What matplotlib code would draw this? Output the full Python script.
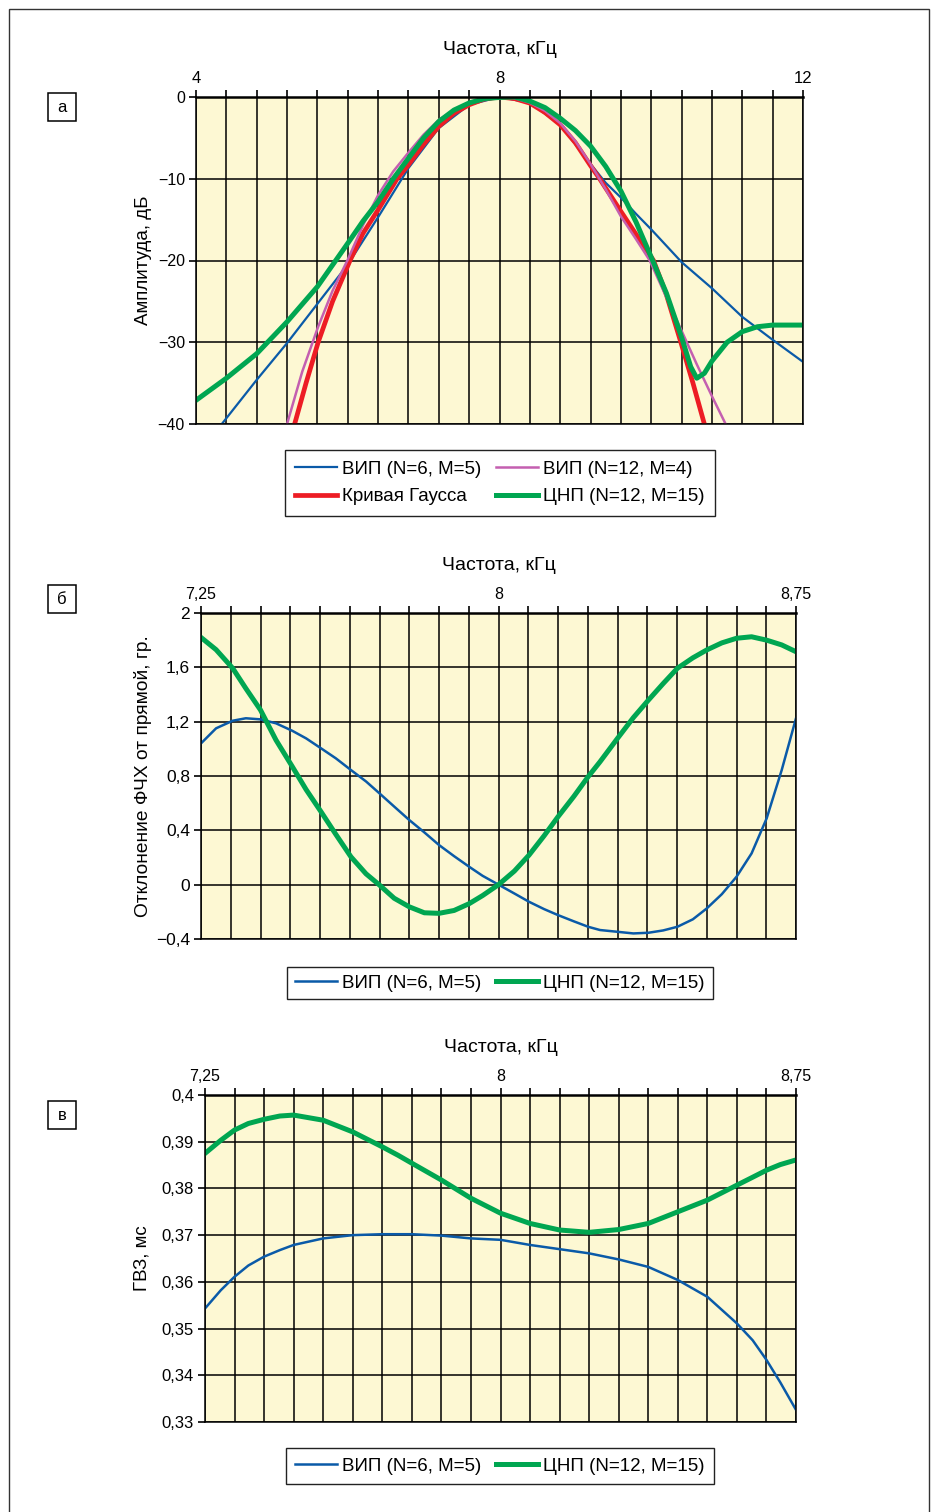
import matplotlib
matplotlib.use("Agg")
import matplotlib.pyplot as plt
import numpy as np
from matplotlib.patches import Rectangle

plt.rcParams['font.family'] = ['Liberation Sans', 'DejaVu Sans']

BLUE = '#0a5aa8'
RED = '#ed1c24'
PINK = '#c45fb0'
GREEN = '#00a651'
BG = '#fdf8d3'

# ---- panel a: amplitude, dB vs frequency, kHz
a_blue_f = [4.34, 4.8, 5.2, 5.6, 6.0, 6.4, 6.8, 7.2, 7.6, 8.0, 8.4, 8.8, 9.2, 9.4, 9.6, 9.8, 10.0, 10.4, 10.8, 11.2, 11.6, 12.0]
a_blue_db = [-40, -34.6, -30.1, -25.3, -20.5, -14.7, -8.7, -3.8, -0.95, 0, -0.7, -3.4, -8.2, -10.5, -12.3, -14.3, -16.2, -20.2, -23.4, -26.9, -29.7, -32.4]

a_red_f = [5.30, 5.45, 5.61, 5.8, 6.03, 6.2, 6.4, 6.65, 6.8, 7.0, 7.2, 7.4, 7.6, 7.8, 8.0, 8.2, 8.4, 8.6, 8.8, 9.0, 9.2, 9.32, 9.6, 9.8, 10.03, 10.2, 10.39, 10.55, 10.70]
a_red_db = [-40, -35.0, -30, -25.0, -20, -16.7, -13.8, -10, -8.3, -5.8, -3.6, -2.0, -0.95, -0.25, 0, -0.2, -0.75, -1.9, -3.4, -5.6, -8.4, -10, -14.0, -16.8, -20, -24.2, -30, -35.0, -40]

a_pink_f = [5.2, 5.4, 5.61, 5.8, 6.0, 6.2, 6.4, 6.6, 6.8, 7.0, 7.2, 7.4, 7.6, 7.8, 8.0, 8.2, 8.4, 8.6, 8.8, 9.0, 9.2, 9.4, 9.6, 9.8, 9.98, 10.2, 10.4, 10.6, 10.8, 10.98]
a_pink_db = [-40, -33.6, -28.1, -23.7, -19.9, -15.7, -12.0, -9.1, -6.8, -4.6, -2.8, -1.6, -0.7, -0.15, 0, -0.15, -0.7, -1.7, -3.2, -5.4, -8.2, -11.3, -14.6, -17.4, -20.0, -24.5, -28.6, -32.7, -36.6, -40]

a_green_f = [4.0, 4.4, 4.8, 5.2, 5.6, 6.0, 6.2, 6.4, 6.6, 6.8, 7.0, 7.2, 7.4, 7.6, 7.8, 8.0, 8.2, 8.4, 8.6, 8.8, 9.0, 9.2, 9.4, 9.6, 9.8, 10.0, 10.2, 10.4, 10.52, 10.6, 10.7, 10.8, 11.0, 11.2, 11.4, 11.6, 12.0]
a_green_db = [-37.1, -34.4, -31.4, -27.5, -23.2, -17.9, -15.2, -12.8, -10.0, -7.5, -5.0, -3.0, -1.6, -0.73, -0.2, -0.05, 0, -0.5, -1.3, -2.6, -4.1, -6.0, -8.5, -11.5, -15.3, -19.6, -24.0, -29.4, -33.0, -34.4, -33.8, -32.3, -30.0, -28.7, -28.1, -27.9, -27.9]

a_xticks = [4, 8, 12]
a_xlabels = ['4', '8', '12']
a_yticks = [0, -10, -20, -30, -40]
a_ylabels = ['0', '\u221210', '\u221220', '\u221230', '\u221240']

# ---- panel б: phase deviation, degrees
b_f = [7.25, 7.288, 7.33, 7.363, 7.40, 7.439, 7.48, 7.515, 7.553, 7.59, 7.628, 7.666, 7.70, 7.737,
       7.775, 7.813, 7.85, 7.888, 7.926, 7.96, 8.0, 8.04, 8.077, 8.115, 8.15, 8.19, 8.226, 8.256,
       8.30, 8.34, 8.378, 8.415, 8.451, 8.49, 8.525, 8.563, 8.60, 8.638, 8.676, 8.714, 8.75]
b_blue = [1.04, 1.151, 1.207, 1.225, 1.217, 1.188, 1.133, 1.077, 1.003, 0.93, 0.844, 0.76, 0.672, 0.575,
          0.476, 0.385, 0.292, 0.21, 0.132, 0.065, 0.0, -0.065, -0.126, -0.18, -0.224, -0.27, -0.31, -0.334,
          -0.347, -0.359, -0.354, -0.337, -0.31, -0.255, -0.175, -0.07, 0.058, 0.23, 0.488, 0.844, 1.225]
b_green = [1.82, 1.73, 1.593, 1.445, 1.286, 1.065, 0.87, 0.70, 0.535, 0.37, 0.205, 0.08, -0.003, -0.1,
           -0.163, -0.207, -0.211, -0.19, -0.14, -0.08, 0.0, 0.10, 0.218, 0.36, 0.50, 0.65, 0.795, 0.905,
           1.077, 1.23, 1.359, 1.48, 1.593, 1.67, 1.728, 1.78, 1.814, 1.825, 1.80, 1.765, 1.715]
b_yticks = [2, 1.6, 1.2, 0.8, 0.4, 0, -0.4]
b_ylabels = ['2', '1,6', '1,2', '0,8', '0,4', '0', '\u22120,4']

# ---- panel в: group delay, ms
c_f = [7.25, 7.29, 7.325, 7.36, 7.4, 7.44, 7.475, 7.55, 7.625, 7.7, 7.74, 7.775, 7.85, 7.925, 8.0,
       8.075, 8.15, 8.225, 8.3, 8.375, 8.45, 8.525, 8.6, 8.64, 8.675, 8.71, 8.75]
c_blue = [0.3543, 0.3582, 0.3611, 0.3635, 0.3654, 0.3668, 0.3679, 0.3693, 0.3700, 0.3702, 0.3702, 0.3702, 0.3699, 0.3693, 0.3690,
          0.3679, 0.3670, 0.3661, 0.3648, 0.3632, 0.3604, 0.3568, 0.3511, 0.3475, 0.3433, 0.3385, 0.3326]
c_green = [0.3875, 0.3903, 0.3925, 0.3939, 0.3948, 0.3955, 0.3957, 0.3946, 0.3921, 0.3889, 0.3871, 0.3854, 0.3818, 0.3779, 0.3747,
           0.3725, 0.3711, 0.3706, 0.3712, 0.3725, 0.3750, 0.3775, 0.3807, 0.3824, 0.3839, 0.3851, 0.3861]
c_yticks = [0.40, 0.39, 0.38, 0.37, 0.36, 0.35, 0.34, 0.33]
c_ylabels = ['0,4', '0,39', '0,38', '0,37', '0,36', '0,35', '0,34', '0,33']

bc_xticks = [7.25, 8, 8.75]
bc_xlabels = ['7,25', '8', '8,75']

lbl_blue = 'ВИП (N=6, M=5)'
lbl_pink = 'ВИП (N=12, M=4)'
lbl_red = 'Кривая Гаусса'
lbl_green = 'ЦНП (N=12, M=15)'

W, H = 934, 1512
fig = plt.figure(figsize=(W / 100, H / 100), dpi=100)


def px_axes(x0, x1, y0, y1):
    return fig.add_axes([x0 / W, 1 - y1 / H, (x1 - x0) / W, (y1 - y0) / H])


def style(ax, xlim, nstep, xticks, xlabels, yticks, ylabels, xfs, yfs, ylabel, ylab_x, ylab_fs):
    ax.set_facecolor(BG)
    ax.set_xlim(*xlim)
    ax.set_ylim(min(yticks), max(yticks))
    ax.xaxis.tick_top()
    ax.xaxis.set_label_position('top')
    ax.set_xticks(xticks, xlabels, fontsize=xfs)
    ax.set_xticks(np.linspace(xlim[0], xlim[1], nstep + 1), minor=True)
    ax.set_yticks(yticks, ylabels, fontsize=yfs)
    ax.tick_params(which='both', direction='out', length=5, width=1.2, color='black',
                   top=True, bottom=False, left=True, right=False, pad=3)
    ax.grid(True, which='both', axis='x', color='black', lw=1.1)
    ax.grid(True, which='major', axis='y', color='black', lw=1.1)
    ax.set_axisbelow(True)
    for s in ax.spines.values():
        s.set_color('black')
        s.set_linewidth(1.1)
    ax.spines['top'].set_linewidth(1.8)
    ax.set_xlabel('Частота, кГц', fontsize=14, labelpad=12)
    ax.set_ylabel(ylabel, fontsize=ylab_fs)
    ax.yaxis.set_label_coords(ylab_x, 0.5)


def legend(handles, labels, y, bp, ls):
    return fig.legend(handles, labels, loc='center', bbox_to_anchor=(500 / W, 1 - y / H), ncol=2,
                      frameon=True, fancybox=False, edgecolor='#222222', framealpha=1, fontsize=13.5,
                      handlelength=2.2, handletextpad=0.3, columnspacing=0.8, borderpad=bp,
                      labelspacing=ls)


def panel_tag(txt, cx, cy):
    fig.patches.append(Rectangle(((cx - 14) / W, 1 - (cy + 14) / H), 28 / W, 28 / H,
                                 transform=fig.transFigure, fill=True, facecolor='white',
                                 edgecolor='black', lw=1.1))
    fig.text(cx / W, 1 - cy / H, txt, ha='center', va='center', fontsize=12)


# outer frame
fig.patches.append(Rectangle((9 / W, -0.01), 920 / W, 1.01 - 9 / H, transform=fig.transFigure,
                             fill=False, edgecolor='#333333', lw=1.0))

# panel a
ax1 = px_axes(196, 803, 97, 424)
style(ax1, (4, 12), 20, a_xticks, a_xlabels, a_yticks, a_ylabels, 12, 11.5,
      'Амплитуда, дБ', -0.072, 13.5)
h_blue, = ax1.plot(a_blue_f, a_blue_db, color=BLUE, lw=1.6)
h_red, = ax1.plot(a_red_f, a_red_db, color=RED, lw=3.4)
h_pink, = ax1.plot(a_pink_f, a_pink_db, color=PINK, lw=1.8)
h_green, = ax1.plot(a_green_f, a_green_db, color=GREEN, lw=3.6)
legend([h_blue, h_red, h_pink, h_green], [lbl_blue, lbl_red, lbl_pink, lbl_green], 483, 0.55, 0.55)
panel_tag('а', 62, 107)

# panel б
ax2 = px_axes(201, 796, 613, 939)
style(ax2, (7.25, 8.75), 20, bc_xticks, bc_xlabels, b_yticks, b_ylabels, 11.5, 12.5,
      'Отклонение ФЧХ от прямой, гр.', -0.082, 13.8)
hb, = ax2.plot(b_f, b_blue, color=BLUE, lw=1.8)
hg, = ax2.plot(b_f, b_green, color=GREEN, lw=3.6)
legend([hb, hg], [lbl_blue, lbl_green], 983, 0.42, 0.3)
panel_tag('б', 62, 599)

# panel в
ax3 = px_axes(205, 796, 1095, 1422)
style(ax3, (7.25, 8.75), 20, bc_xticks, bc_xlabels, c_yticks, c_ylabels, 11.5, 12,
      'ГВЗ, мс', -0.092, 13.5)
hb, = ax3.plot(c_f, c_blue, color=BLUE, lw=1.8)
hg, = ax3.plot(c_f, c_green, color=GREEN, lw=3.6)
legend([hb, hg], [lbl_blue, lbl_green], 1466, 0.48, 0.3)
panel_tag('в', 62, 1115)

fig.savefig('out.png', dpi=100, facecolor='white')
